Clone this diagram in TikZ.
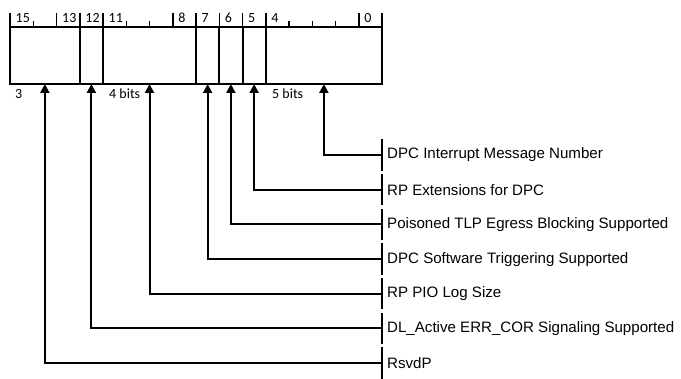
\documentclass[tikz,border=0pt]{standalone}
\usepackage{fontspec}
\setmainfont{Liberation Sans}
\newfontfamily\bitfont{Carlito}
\usetikzlibrary{arrows.meta, positioning, calc}
\tikzset{
    regField/.style={draw=black, line width=2pt, inner sep=0pt, outer sep=0pt, anchor=north west, minimum height=57pt},
    bitNum/.style={anchor=base west, inner sep=0pt, font=\bitfont\fontsize{14}{14}\selectfont},
    fieldDesc/.style={anchor=west, inner xsep=5pt, inner ysep=0pt, minimum height=31pt, font=\fontsize{15.1}{15.1}\selectfont},
    pointer/.style={line width=2pt, -{Triangle[length=9pt, width=9pt]}},
    tickLine/.style={line width=1.5pt}
}

\begin{document}
\begin{tikzpicture}[x=1pt, y=-1pt]
    \useasboundingbox (0,0) rectangle (681,379);
    \def\bw{23.25}
    % register fields
    \node[regField, minimum width=3*\bw pt] (F15) at (10,27) {};
    \node[regField, minimum width=\bw pt] (F12) at (F15.north east) {};
    \node[regField, minimum width=4*\bw pt] (F11) at (F12.north east) {};
    \node[regField, minimum width=\bw pt] (F7) at (F11.north east) {};
    \node[regField, minimum width=\bw pt] (F6) at (F7.north east) {};
    \node[regField, minimum width=\bw pt] (F5) at (F6.north east) {};
    \node[regField, minimum width=5*\bw pt] (F4) at (F5.north east) {};
    % bit ruler
    \foreach \k in {0,2,3,4,7,8,9,10,11,15} {
        \pgfmathtruncatemacro{\bitno}{15-\k}
        \draw[tickLine] (10+\k*\bw,13) -- (10+\k*\bw,27);
        \node[bitNum] (B\bitno) at (10+\k*\bw+5.5,23) {\bitno};
    }
    \foreach \k in {1,5,6,12,13,14}
        \draw[tickLine] (10+\k*\bw,21) -- (10+\k*\bw,27);
    \draw[tickLine] (10+16*\bw,13) -- (10+16*\bw,27);
    % widths
    \node[bitNum] (W15) at (15,99) {3};
    \node[bitNum] (W11) at (109,99) {4 bits};
    \node[bitNum] (W4) at (272,99) {5 bits};
    % descriptions
    \node[fieldDesc] (D4) at (382,155) {DPC Interrupt Message Number};
    \node[fieldDesc] (D5) at (382,189.7) {RP Extensions for DPC};
    \node[fieldDesc] (D6) at (382,224.4) {Poisoned TLP Egress Blocking Supported};
    \node[fieldDesc] (D7) at (382,259.1) {DPC Software Triggering Supported};
    \node[fieldDesc] (D11) at (382,293.8) {RP PIO Log Size};
    \node[fieldDesc] (D12) at (382,328.5) {DL\_Active ERR\_COR Signaling Supported};
    \node[fieldDesc] (D15) at (382,363.2) {RsvdP};
    \foreach \f in {4,5,6,7,11,12,15} {
        \draw[line width=2pt] (D\f.north west) -- (D\f.south west);
        \draw[pointer] (D\f.west) -| (F\f.south);
    }
\end{tikzpicture}
\end{document}
